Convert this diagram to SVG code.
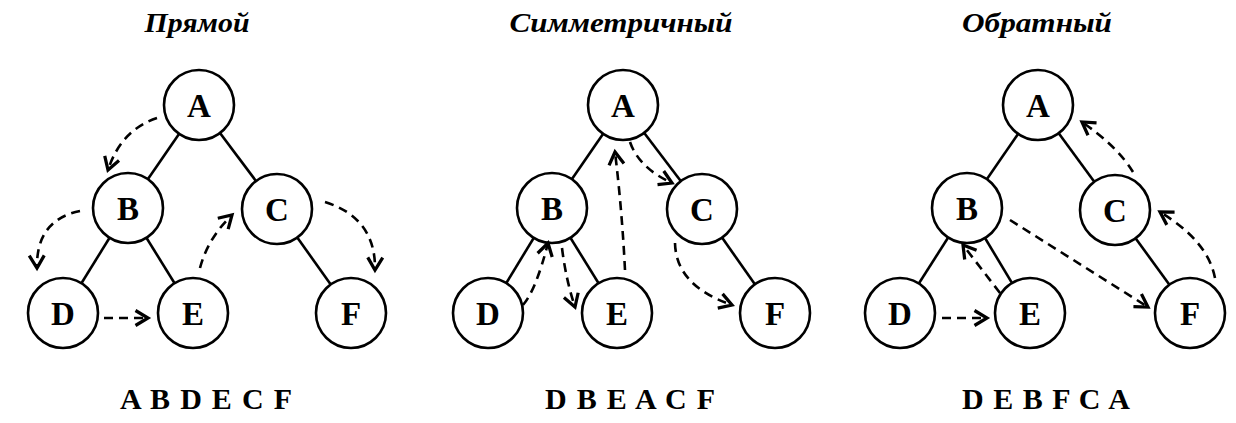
<svg xmlns="http://www.w3.org/2000/svg" width="1236" height="423" viewBox="0 0 1236 423">
<defs>
<marker id="arr" markerUnits="userSpaceOnUse" markerWidth="20" markerHeight="20" viewBox="-12 -8 14 16" refX="0" refY="0" orient="auto">
<path d="M-10,-6 L0,0 L-10,6" fill="none" stroke="#000" stroke-width="2.6" stroke-linejoin="miter"/>
</marker>
</defs>
<style>
.edge{stroke:#000;stroke-width:2.6;fill:none}
.node circle{fill:#fff;stroke:#000;stroke-width:2.6}
.node text{font-family:"Liberation Serif","Times New Roman",serif;font-weight:bold;font-size:33px;text-anchor:middle;fill:#000}
.trav{stroke:#000;stroke-width:2.6;fill:none;stroke-dasharray:9 6;marker-end:url(#arr)}
.title{font-family:"Liberation Serif","Times New Roman",serif;font-weight:bold;font-style:italic;font-size:28px;text-anchor:middle;fill:#000}
.order{font-family:"Liberation Serif","Times New Roman",serif;font-weight:bold;font-size:30px;fill:#000}
</style>
<rect width="1236" height="423" fill="#fff"/>

<text class="title" x="197" y="32" textLength="105" lengthAdjust="spacingAndGlyphs">Прямой</text>
<text class="title" x="621" y="32" textLength="223" lengthAdjust="spacingAndGlyphs">Симметричный</text>
<text class="title" x="1037" y="32" textLength="150" lengthAdjust="spacingAndGlyphs">Обратный</text>

<g id="edges">
<line class="edge" x1="199" y1="105" x2="128" y2="208"/>
<line class="edge" x1="199" y1="105" x2="277" y2="209"/>
<line class="edge" x1="128" y1="208" x2="63" y2="313"/>
<line class="edge" x1="128" y1="208" x2="193" y2="313"/>
<line class="edge" x1="277" y1="209" x2="351" y2="313"/>

<line class="edge" x1="623" y1="105" x2="552" y2="208"/>
<line class="edge" x1="623" y1="105" x2="702" y2="209"/>
<line class="edge" x1="552" y1="208" x2="488" y2="313"/>
<line class="edge" x1="552" y1="208" x2="617" y2="313"/>
<line class="edge" x1="702" y1="209" x2="775" y2="313"/>

<line class="edge" x1="1038" y1="105" x2="967" y2="208"/>
<line class="edge" x1="1038" y1="105" x2="1115" y2="210"/>
<line class="edge" x1="967" y1="208" x2="900" y2="313"/>
<line class="edge" x1="967" y1="208" x2="1030" y2="313"/>
<line class="edge" x1="1115" y1="210" x2="1190" y2="313"/>
</g>

<g id="t1A" class="node"><circle cx="199" cy="105" r="35"/><text x="199" y="117">A</text></g>
<g id="t1B" class="node"><circle cx="128" cy="208" r="35"/><text x="128" y="220">B</text></g>
<g id="t1C" class="node"><circle cx="277" cy="209" r="35"/><text x="277" y="221">C</text></g>
<g id="t1D" class="node"><circle cx="63" cy="313" r="35"/><text x="63" y="325">D</text></g>
<g id="t1E" class="node"><circle cx="193" cy="313" r="35"/><text x="193" y="325">E</text></g>
<g id="t1F" class="node"><circle cx="351" cy="313" r="35"/><text x="351" y="325">F</text></g>

<g id="t2A" class="node"><circle cx="623" cy="105" r="35"/><text x="623" y="117">A</text></g>
<g id="t2B" class="node"><circle cx="552" cy="208" r="35"/><text x="552" y="220">B</text></g>
<g id="t2C" class="node"><circle cx="702" cy="209" r="35"/><text x="702" y="221">C</text></g>
<g id="t2D" class="node"><circle cx="488" cy="313" r="35"/><text x="488" y="325">D</text></g>
<g id="t2E" class="node"><circle cx="617" cy="313" r="35"/><text x="617" y="325">E</text></g>
<g id="t2F" class="node"><circle cx="775" cy="313" r="35"/><text x="775" y="325">F</text></g>

<g id="t3A" class="node"><circle cx="1038" cy="105" r="35"/><text x="1038" y="117">A</text></g>
<g id="t3B" class="node"><circle cx="967" cy="208" r="35"/><text x="967" y="220">B</text></g>
<g id="t3C" class="node"><circle cx="1115" cy="210" r="35"/><text x="1115" y="222">C</text></g>
<g id="t3D" class="node"><circle cx="900" cy="313" r="35"/><text x="900" y="325">D</text></g>
<g id="t3E" class="node"><circle cx="1030" cy="313" r="35"/><text x="1030" y="325">E</text></g>
<g id="t3F" class="node"><circle cx="1190" cy="313" r="35"/><text x="1190" y="325">F</text></g>

<g id="traversal">
<path class="trav" d="M157,118 Q121,130 108,170"/>
<path class="trav" d="M80,211 Q36,220 37,268"/>
<path class="trav" d="M104,318 L148,318"/>
<path class="trav" d="M200,268 Q208,238 232,215"/>
<path class="trav" d="M325,202 Q376,218 375,270"/>

<path class="trav" d="M523,305 Q536,290 548,243"/>
<path class="trav" d="M562,248 Q566,280 575,307"/>
<path class="trav" d="M625,270 Q622,210 615,152"/>
<path class="trav" d="M630,142 Q639,168 672,183"/>
<path class="trav" d="M675,243 Q676,286 732,305"/>

<path class="trav" d="M942,318 L987,318"/>
<path class="trav" d="M1000,293 L963,245"/>
<path class="trav" d="M1010,220 L1148,307"/>
<path class="trav" d="M1215,278 Q1208,241 1160,212"/>
<path class="trav" d="M1133,172 Q1118,147 1082,122"/>
</g>

<text class="order" x="120" y="409" textLength="172" lengthAdjust="spacing">A B D E C F</text>
<text class="order" x="545" y="409" textLength="170" lengthAdjust="spacing">D B E A C F</text>
<text class="order" x="962" y="409" textLength="168" lengthAdjust="spacing">D E B F C A</text>
</svg>
